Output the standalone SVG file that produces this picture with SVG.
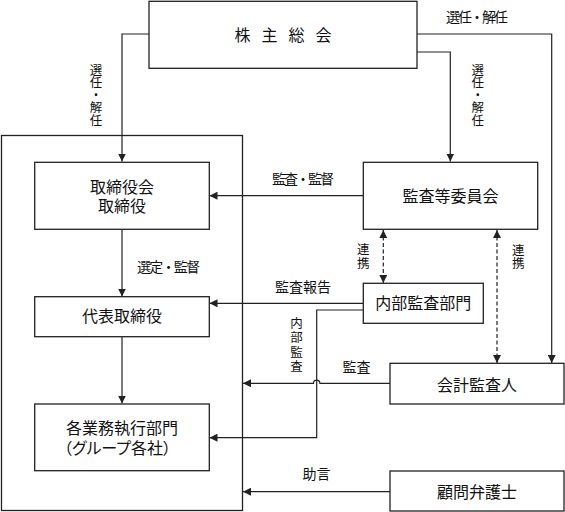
<svg xmlns="http://www.w3.org/2000/svg" width="565" height="512" viewBox="0 0 565 512">
<style>
.box{fill:#fff;stroke:#222;stroke-width:1.3}
.frame{fill:none;stroke:#222;stroke-width:1.3}
.ln{fill:none;stroke:#222;stroke-width:1.2}
.dash{fill:none;stroke:#222;stroke-width:1.2;stroke-dasharray:4 2.5}
.t{font-family:"Noto Sans CJK JP","Noto Sans",sans-serif;font-size:16px;fill:#111;text-anchor:middle}
.s{font-family:"Noto Sans CJK JP","Noto Sans",sans-serif;font-size:14px;fill:#111;text-anchor:middle}
.v{font-family:"Noto Sans CJK JP","Noto Sans",sans-serif;font-size:12.5px;fill:#111;text-anchor:start;writing-mode:vertical-rl}
</style>
<defs>
<marker id="ah" viewBox="0 0 8 8" refX="8" refY="4" markerWidth="8" markerHeight="8" markerUnits="userSpaceOnUse" orient="auto-start-reverse">
<path d="M0,0 L8,4 L0,8 z" fill="#222"/>
</marker>
</defs>
<rect width="565" height="512" fill="#fff"/>

<g id="group-frame">
<rect class="frame" x="1.5" y="135.5" width="241" height="375"/>
</g>

<g id="connectors">
<path class="ln" d="M149,34 H122 V161.5" marker-end="url(#ah)"/>
<path class="ln" d="M417,52 H450.3 V161.5" marker-end="url(#ah)"/>
<path class="ln" d="M417,34 H551.7 V363" marker-end="url(#ah)"/>
<path class="ln" d="M363,195.7 H209.5" marker-end="url(#ah)"/>
<path class="ln" d="M122,229.5 V296.5" marker-end="url(#ah)"/>
<path class="ln" d="M363,303.3 H209.5" marker-end="url(#ah)"/>
<path class="ln" d="M122,336.7 V403.5" marker-end="url(#ah)"/>
<path class="ln" d="M363,310 H316.7 V437.7 H209.5" marker-end="url(#ah)"/>
<path class="ln" d="M390,383.3 H319.9 A3.2,3.2 0 0 0 313.5,383.3 H243" marker-end="url(#ah)"/>
<path class="ln" d="M390,491.7 H243" marker-end="url(#ah)"/>
<path class="dash" d="M383.3,230 V283" marker-start="url(#ah)" marker-end="url(#ah)"/>
<path class="dash" d="M497,230 V363" marker-start="url(#ah)" marker-end="url(#ah)"/>
</g>

<g id="labels">
<text class="s" x="477" y="22.3" textLength="62" lengthAdjust="spacing">選任・解任</text>
<text class="v" x="96" y="63.8">選任・解任</text>
<text class="v" x="477.7" y="63.8">選任・解任</text>
<text class="s" x="303" y="184.3" textLength="62" lengthAdjust="spacing">監査・監督</text>
<text class="s" x="168.5" y="272" textLength="63" lengthAdjust="spacing">選定・監督</text>
<text class="v" x="363.3" y="242.8" letter-spacing="1.5">連携</text>
<text class="v" x="518.3" y="243.5" letter-spacing="0.8">連携</text>
<text class="s" x="303" y="292">監査報告</text>
<text class="v" x="296.5" y="316.8" letter-spacing="2">内部監査</text>
<text class="s" x="356.5" y="372">監査</text>
<text class="s" x="316.5" y="479.3">助言</text>
</g>

<g id="node-shareholders">
<rect class="box" x="149" y="1.3" width="268" height="67"/>
<text class="t" x="288.5" y="40.5" letter-spacing="11">株主総会</text>
</g>

<g id="node-board">
<rect class="box" x="34.7" y="162.3" width="174.6" height="67"/>
<text class="t" x="122" y="192.5">取締役会</text>
<text class="t" x="122" y="211.5">取締役</text>
</g>

<g id="node-audit-committee">
<rect class="box" x="363.3" y="162.3" width="174.4" height="67"/>
<text class="t" x="450.5" y="201.5">監査等委員会</text>
</g>

<g id="node-representative">
<rect class="box" x="34.7" y="296.7" width="174.6" height="40"/>
<text class="t" x="122" y="322.3">代表取締役</text>
</g>

<g id="node-internal-audit">
<rect class="box" x="363.3" y="283.3" width="120" height="40"/>
<text class="t" x="423.3" y="309.3">内部監査部門</text>
</g>

<g id="node-business-units">
<rect class="box" x="34.7" y="404" width="174.6" height="66.7"/>
<text class="t" x="122" y="434">各業務執行部門</text>
<text class="t" x="64" y="454" style="text-anchor:start;font-feature-settings:'palt'">（グループ各社）</text>
</g>

<g id="node-accounting-auditor">
<rect class="box" x="390" y="363.3" width="174" height="40.7"/>
<text class="t" x="477" y="390.5">会計監査人</text>
</g>

<g id="node-legal-advisor">
<rect class="box" x="390" y="471" width="174" height="40"/>
<text class="t" x="477" y="497.5">顧問弁護士</text>
</g>
</svg>
